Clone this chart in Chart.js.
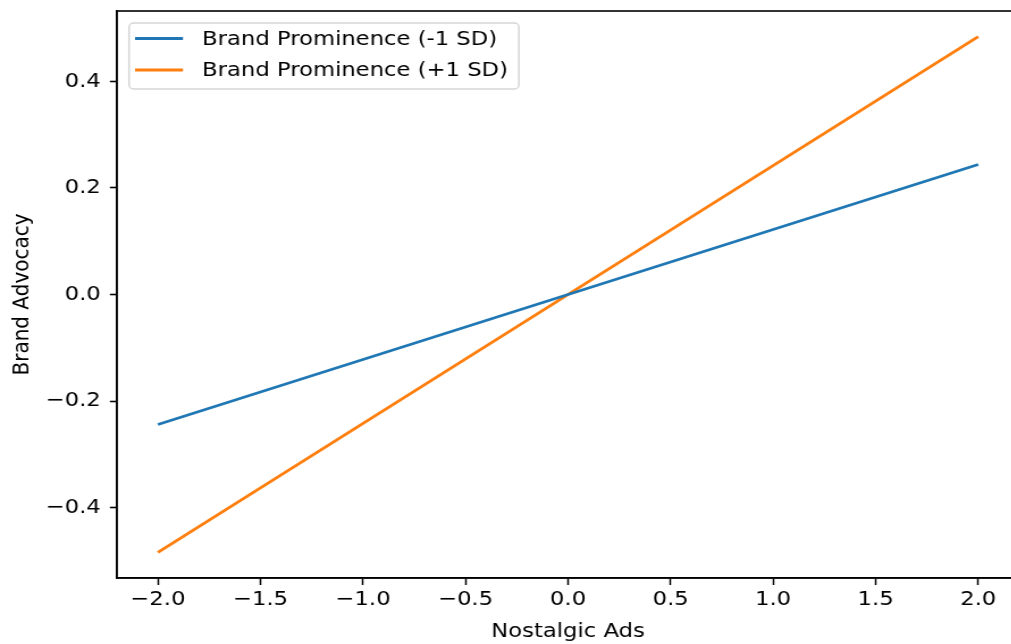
<!DOCTYPE html>
<html>
<head>
<meta charset="utf-8">
<title>Brand Advocacy</title>
<script src="https://cdn.jsdelivr.net/npm/chart.js@4/dist/chart.umd.min.js"></script>
<style>
  html, body { margin: 0; padding: 0; background: #fff; overflow: hidden; }
  #wrap { width: 1011px; height: 644px; overflow: hidden; }
  /* the reference picture is stretched sideways, so the canvas is too */
  #stretch { width: 905px; height: 644px; transform: scaleX(1.135); transform-origin: 0 0; }
</style>
</head>
<body>
<div id="wrap">
  <div id="stretch">
    <canvas id="plot" width="905" height="644" style="width:905px;height:644px"></canvas>
  </div>
</div>
<script>
// data
const nostalgicAds = [-2, 2];
const lowProminence = [-0.244, 0.244];   // Brand Prominence (-1 SD)
const highProminence = [-0.484, 0.484];  // Brand Prominence (+1 SD)
const xTickValues = [-2, -1.5, -1, -0.5, 0, 0.5, 1, 1.5, 2];
const yTickValues = [-0.4, -0.2, 0, 0.2, 0.4];
const seriesNames = ["Brand Prominence (-1 SD)", "Brand Prominence (+1 SD)"];
const seriesColors = ["#1f77b4", "#ff7f0e"];

const font = "DejaVu Sans";

function fmt(v) {
  //matplotlib uses the real minus sign
  const s = Math.abs(v).toFixed(1);
  return v < -1e-9 ? "\u2212" + s : s;
}

function toPoints(xs, ys) {
  return xs.map((x, i) => ({ x: x, y: ys[i] }));
}

//draws the box around the axes (top / right spines too)
const framePlugin = {
  id: "frame",
  afterDraw(chart) {
    const { ctx, chartArea } = chart;
    ctx.save();
    ctx.strokeStyle = "#000";
    ctx.lineWidth = 1.6;
    ctx.strokeRect(chartArea.left, chartArea.top, chartArea.right - chartArea.left, chartArea.bottom - chartArea.top);
    ctx.restore();
  },
};

//legend box inside the axes, upper left like matplotlib
const legendPlugin = {
  id: "innerLegend",
  afterDraw(chart) {
    const { ctx } = chart;
    const x0 = 113.7, y0 = 23, w = 343.5, h = 66, r = 4;
    ctx.save();
    ctx.fillStyle = "rgba(255,255,255,0.8)";
    ctx.strokeStyle = "rgba(204,204,204,0.8)";
    ctx.lineWidth = 1.5;
    ctx.beginPath();
    ctx.roundRect(x0, y0, w, h, r);
    ctx.fill();
    ctx.stroke();
    ctx.font = "20px '" + font + "'";
    ctx.textBaseline = "middle";
    seriesNames.forEach((name, i) => {
      const y = 38.5 + i * 31.5;
      ctx.strokeStyle = seriesColors[i];
      ctx.lineWidth = 3;
      ctx.beginPath();
      ctx.moveTo(119, y);
      ctx.lineTo(161.2, y);
      ctx.stroke();
      ctx.fillStyle = "#000";
      ctx.fillText(name, 178, y + 1);
    });
    ctx.restore();
  },
};

const plot = new Chart(document.getElementById("plot"), {
  type: "line",
  data: {
    datasets: [
      {
        label: seriesNames[0],
        data: toPoints(nostalgicAds, lowProminence),
        borderColor: seriesColors[0],
        borderWidth: 2.8,
        pointRadius: 0,
        fill: false,
        tension: 0,
      },
      {
        label: seriesNames[1],
        data: toPoints(nostalgicAds, highProminence),
        borderColor: seriesColors[1],
        borderWidth: 2.8,
        pointRadius: 0,
        fill: false,
        tension: 0,
      },
    ],
  },
  options: {
    responsive: false,
    animation: false,
    layout: { padding: { top: 11, right: 7, left: 0, bottom: 0 } },
    plugins: {
      legend: { display: false },
      tooltip: { enabled: false },
      title: { display: false },
    },
    scales: {
      x: {
        type: "linear",
        min: -2.2,
        max: 2.2,
        afterBuildTicks: (scale) => {
          scale.ticks = xTickValues.map((v) => ({ value: v }));
        },
        afterFit: (scale) => {
          scale.height = 66;
          scale.paddingLeft = 0;
          scale.paddingRight = 0;
        },
        grid: {
          drawOnChartArea: false,
          drawTicks: true,
          tickLength: 7,
          tickWidth: 1.5,
          tickColor: "#000",
        },
        border: { display: true, color: "#000", width: 1.6 },
        ticks: {
          callback: (v) => fmt(v),
          color: "#000",
          font: { family: font, size: 20 },
          padding: 3,
          maxRotation: 0,
          autoSkip: false,
        },
        title: {
          display: true,
          text: "Nostalgic Ads",
          color: "#000",
          font: { family: font, size: 20 },
          padding: { top: 0, bottom: 0 },
        },
      },
      y: {
        type: "linear",
        min: -0.532,
        max: 0.532,
        afterBuildTicks: (scale) => {
          scale.ticks = yTickValues.map((v) => ({ value: v }));
        },
        afterFit: (scale) => {
          scale.width = 103;
          scale.paddingTop = 0;
          scale.paddingBottom = 0;
        },
        grid: {
          drawOnChartArea: false,
          drawTicks: true,
          tickLength: 6.2,
          tickWidth: 1.6,
          tickColor: "#000",
        },
        border: { display: true, color: "#000", width: 1.4 },
        ticks: {
          callback: (v) => fmt(v),
          color: "#000",
          font: { family: font, size: 20 },
          padding: 8,
          autoSkip: false,
        },
        title: {
          display: true,
          text: "Brand Advocacy",
          color: "#000",
          font: { family: font, size: 20 },
          padding: { top: 8, bottom: 0 },
        },
      },
    },
  },
  plugins: [framePlugin, legendPlugin],
});
</script>
</body>
</html>
